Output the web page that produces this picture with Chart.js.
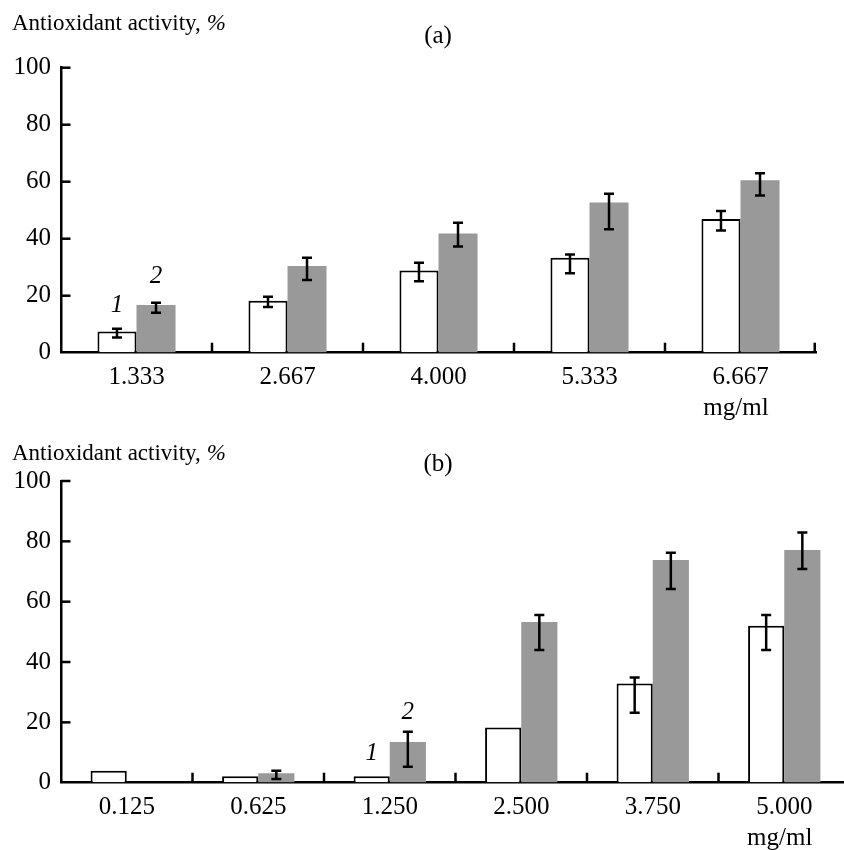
<!DOCTYPE html>
<html><head><meta charset="utf-8">
<script src="https://cdn.jsdelivr.net/npm/chart.js@4.4.0/dist/chart.umd.min.js"></script>
<style>
html,body{margin:0;padding:0;background:#fff;width:844px;height:850px;overflow:hidden;}
#wrap{position:relative;width:844px;height:850px;overflow:hidden;}
canvas{position:absolute;left:0;}
.t{position:absolute;font-family:'Liberation Serif','Times New Roman',serif;color:#000;white-space:nowrap;line-height:1;}
</style></head><body>
<div id="wrap">
<canvas id="ca" width="844" height="425" style="top:0;width:844px;height:425px"></canvas>
<canvas id="cb" width="850" height="425" style="top:425px;width:850px;height:425px"></canvas>
<div class="t" style="left:12px;top:11px;font-size:23px">Antioxidant activity, <i>%</i></div>
<div class="t" style="left:398px;width:80px;text-align:center;top:22px;font-size:25px">(a)</div>
<div class="t" style="left:12px;top:441px;font-size:23px">Antioxidant activity, <i>%</i></div>
<div class="t" style="left:398px;width:80px;text-align:center;top:450px;font-size:25px">(b)</div>
</div>
<script>
// ---- Data: panel (a) ----
const categoriesA = ['1.333', '2.667', '4.000', '5.333', '6.667'];
const series1A = [7.4, 18.2, 28.8, 33.3, 46.9];
const series2A = [16.7, 30.4, 41.8, 52.7, 60.5];
const err1LowA = [5.3, 16.0, 25.1, 27.9, 42.9];
const err1HighA = [8.4, 19.6, 31.6, 34.5, 49.7];
const err2LowA = [14.0, 25.5, 37.3, 43.3, 55.2];
const err2HighA = [17.5, 33.3, 45.6, 55.8, 63.0];
// ---- Data: panel (b) ----
const categoriesB = ['0.125', '0.625', '1.250', '2.500', '3.750', '5.000'];
const series1B = [4.0, 2.1, 2.1, 18.3, 32.9, 52.0];
const series2B = [0, 3.1, 13.5, 53.3, 73.8, 77.1];
const err1LowB = [null, null, null, null, 23.2, 44.0];
const err1HighB = [null, null, null, null, 34.9, 55.6];
const err2LowB = [null, 1.2, 5.3, 44.0, 64.2, 70.8];
const err2HighB = [null, 4.0, 16.9, 55.6, 76.2, 82.9];
// ---- Ticks & labels ----
const yTickMin = 0, yTickMax = 100, yTickStep = 20;
const seriesLabels = ['1', '2'];
const annoCategoryA = 0, annoValuesA = [16.7, 26.6];
const annoCategoryB = 2, annoValuesB = [9.8, 23.4];
const unitLabel = 'mg/ml';

const FONT = "'Liberation Serif', 'Times New Roman', serif";
const GRAY = '#999999';

const decor = {
  id: 'decor',
  afterDatasetsDraw(chart, args, o) {
    const ctx = chart.ctx, xs = chart.scales.x, ys = chart.scales.y;
    ctx.save();
    ctx.strokeStyle = '#000';
    ctx.fillStyle = '#000';
    ctx.lineWidth = 2.5;
    ctx.lineCap = 'butt';
    // error bars
    o.errors.forEach((pair, di) => {
      const meta = chart.getDatasetMeta(di);
      meta.data.forEach((bar, i) => {
        const lo = pair[0][i], hi = pair[1][i];
        if (lo == null || hi == null) return;
        const x = bar.x, y1 = ys.getPixelForValue(lo), y2 = ys.getPixelForValue(hi);
        ctx.beginPath();
        ctx.moveTo(x, y1); ctx.lineTo(x, y2);
        ctx.moveTo(x - 5, y1); ctx.lineTo(x + 5, y1);
        ctx.moveTo(x - 5, y2); ctx.lineTo(x + 5, y2);
        ctx.stroke();
      });
    });
    // inward y tick marks
    ys.ticks.forEach(t => {
      if (t.value === 0) return;
      const y = ys.getPixelForValue(t.value);
      ctx.beginPath(); ctx.moveTo(ys.right, y); ctx.lineTo(ys.right + 9.5, y); ctx.stroke();
    });
    // inward x tick marks at category boundaries
    const n = xs.ticks.length;
    for (let i = 1; i <= n; i++) {
      const x = i < n ? (xs.getPixelForValue(i - 1) + xs.getPixelForValue(i)) / 2 : xs.right - 1.25;
      ctx.beginPath(); ctx.moveTo(x, xs.top); ctx.lineTo(x, xs.top - 10); ctx.stroke();
    }
    // series labels 1, 2
    ctx.font = 'italic 25px ' + FONT;
    ctx.textAlign = 'center';
    ctx.textBaseline = 'middle';
    o.annoValues.forEach((v, di) => {
      const bar = chart.getDatasetMeta(di).data[o.annoCategory];
      ctx.fillText(seriesLabels[di], bar.x, ys.getPixelForValue(v));
    });
    // unit label under last tick label, right-aligned with it
    ctx.font = '25px ' + FONT;
    const last = chart.data.labels[n - 1];
    const lx = xs.getPixelForTick(n - 1) + ctx.measureText(last).width / 2;
    ctx.textAlign = 'right';
    ctx.textBaseline = 'alphabetic';
    ctx.fillText(unitLabel, lx, xs.top + 62);
    ctx.restore();
  }
};

function makeChart(id, cats, s1, s2, errs, anno, lay) {
  return new Chart(document.getElementById(id), {
    type: 'bar',
    data: {
      labels: cats,
      datasets: [
        { data: s1, backgroundColor: '#ffffff', borderColor: '#000000', borderWidth: 2, borderSkipped: 'bottom',
          barPercentage: 1, categoryPercentage: lay.catPct },
        { data: s2, backgroundColor: GRAY, borderWidth: 0,
          barPercentage: 1, categoryPercentage: lay.catPct }
      ]
    },
    options: {
      responsive: false,
      animation: false,
      devicePixelRatio: 1,
      layout: { padding: { top: lay.top, right: lay.right, left: 0, bottom: 0 } },
      plugins: {
        legend: { display: false },
        tooltip: { enabled: false },
        decor: { errors: errs, annoCategory: anno.cat, annoValues: anno.values }
      },
      scales: {
        x: {
          type: 'category',
          offset: true,
          grid: { display: true, drawOnChartArea: false, drawTicks: false },
          border: { display: true, color: '#000', width: 2.5 },
          ticks: { font: { family: FONT, size: 25 }, color: '#000', padding: 10, maxRotation: 0, autoSkip: false },
          afterFit: s => { s.height = lay.xh; }
        },
        y: {
          min: yTickMin, max: yTickMax,
          grid: { display: true, drawOnChartArea: false, drawTicks: false },
          border: { display: true, color: '#000', width: 2.5 },
          ticks: { stepSize: yTickStep, font: { family: FONT, size: 25 }, color: '#000', padding: 10 },
          afterFit: s => { s.width = 61; }
        }
      }
    },
    plugins: [decor]
  });
}

makeChart('ca', categoriesA, series1A, series2A,
  [[err1LowA, err1HighA], [err2LowA, err2HighA]],
  { cat: annoCategoryA, values: annoValuesA },
  { top: 67.7, right: 28, xh: 72.3, catPct: 0.517 });

makeChart('cb', categoriesB, series1B, series2B,
  [[err1LowB, err1HighB], [err2LowB, err2HighB]],
  { cat: annoCategoryB, values: annoValuesB },
  { top: 56, right: 0, xh: 67.3, catPct: 0.55 });
</script>
</body></html>
